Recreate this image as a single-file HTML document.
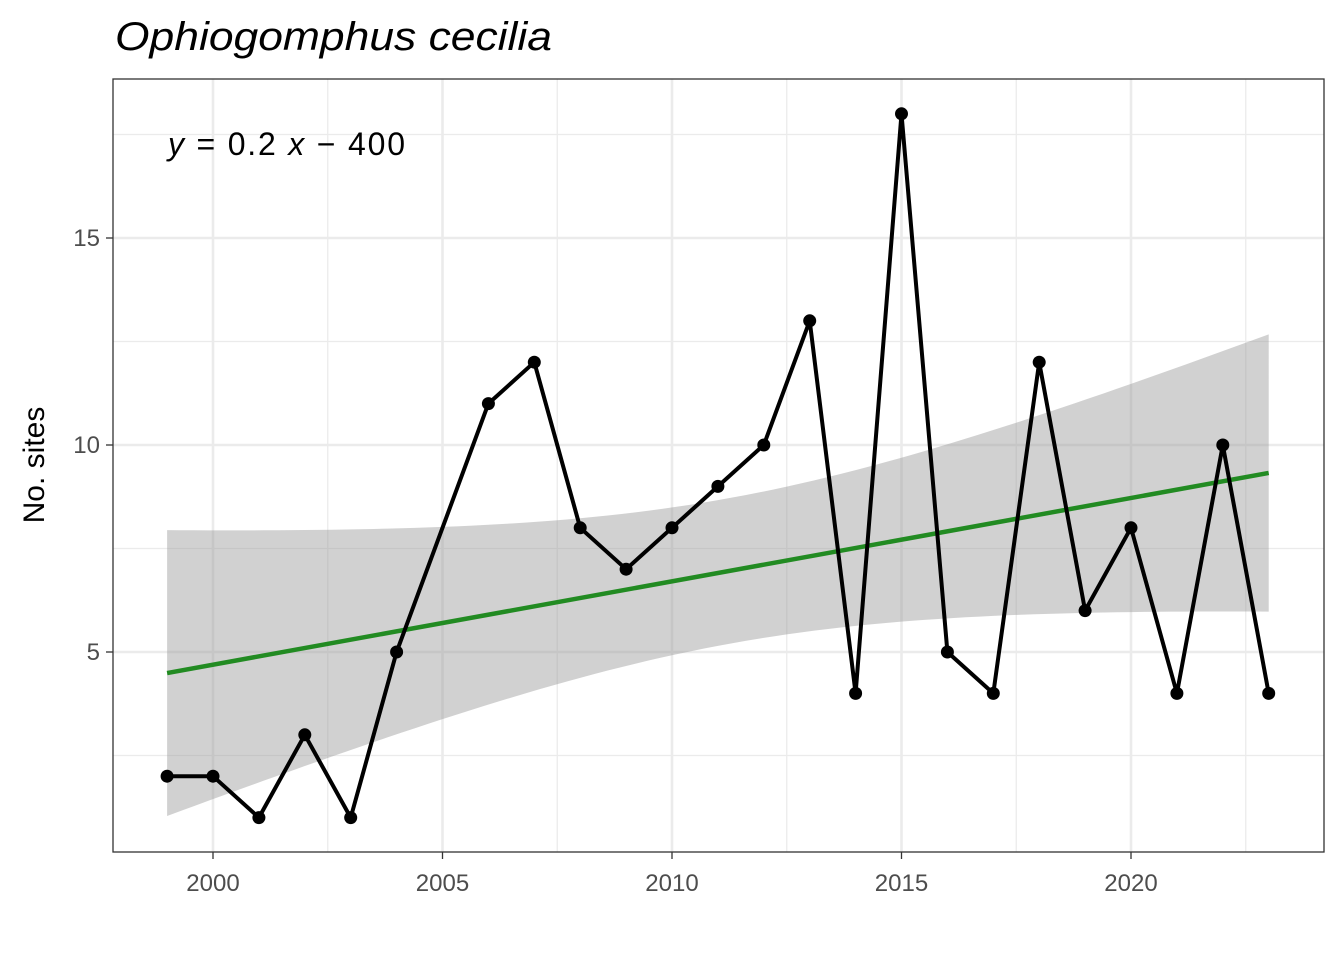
<!DOCTYPE html>
<html><head><meta charset="utf-8"><style>
html,body{margin:0;padding:0;background:#fff;}
svg{display:block;font-family:"Liberation Sans",Arial,sans-serif;}
</style></head><body>
<svg id="chart" width="1344" height="960" viewBox="0 0 1344 960">
<text x="115" y="50" font-size="40" font-style="italic" fill="#000" textLength="437" lengthAdjust="spacingAndGlyphs">Ophiogomphus cecilia</text>
<g id="grid"></g>
<g id="band"></g>
<g id="series"></g>
<rect x="113" y="79" width="1211" height="773" fill="none" stroke="#333" stroke-width="1.3"/>
<g id="axes"></g>
<text x="168" y="155" font-size="32" fill="#000" textLength="237" lengthAdjust="spacing"><tspan font-style="italic">y</tspan> = 0.2 <tspan font-style="italic">x</tspan> − 400</text>
<text transform="translate(44,465) rotate(-90)" text-anchor="middle" font-size="30" fill="#000">No. sites</text>
</svg>
<script>
const years=[1999,2000,2001,2002,2003,2004,2006,2007,2008,2009,2010,2011,2012,2013,2014,2015,2016,2017,2018,2019,2020,2021,2022,2023];
const sites=[2,2,1,3,1,5,11,12,8,7,8,9,10,13,4,18,5,4,12,6,8,4,10,4];
const xTicks=[2000,2005,2010,2015,2020];
const yTicks=[5,10,15];
const xMinor=[2002.5,2007.5,2012.5,2017.5,2022.5];
const yMinor=[2.5,7.5,12.5,17.5];
const NS="http://www.w3.org/2000/svg";
function X(v){return 213+(v-2000)*45.9;}
function Y(v){return 859-v*41.4;}
function mk(tag,attrs,parent){const e=document.createElementNS(NS,tag);for(const k in attrs)e.setAttribute(k,attrs[k]);document.getElementById(parent).appendChild(e);return e;}
xMinor.forEach(v=>{const e=mk('line',{x1:X(v),x2:X(v),y1:79,y2:852,stroke:'#ebebeb','stroke-width':1.3},'grid');

});
yMinor.forEach(v=>{const e=mk('line',{x1:113,x2:1324,y1:Y(v),y2:Y(v),stroke:'#ebebeb','stroke-width':1.3},'grid');

});
xTicks.forEach(v=>{const e=mk('line',{x1:X(v),x2:X(v),y1:79,y2:852,stroke:'#ebebeb','stroke-width':2.6},'grid');


const t=mk('line',{x1:X(v),x2:X(v),y1:852,y2:859,stroke:'#333','stroke-width':1.3},'axes');


const l=mk('text',{x:X(v),y:891,'text-anchor':'middle','font-size':24,fill:'#4d4d4d'},'axes');l.textContent=v;

});
yTicks.forEach(v=>{const e=mk('line',{x1:113,x2:1324,y1:Y(v),y2:Y(v),stroke:'#ebebeb','stroke-width':2.6},'grid');


const t=mk('line',{x1:106,x2:113,y1:Y(v),y2:Y(v),stroke:'#333','stroke-width':1.3},'axes');


const l=mk('text',{x:100,y:Y(v)+8,'text-anchor':'end','font-size':24,fill:'#4d4d4d'},'axes');l.textContent=v;

});
const n=years.length;const mx=years.reduce((a,b)=>a+b)/n,my=sites.reduce((a,b)=>a+b)/n;
let sxx=0,sxy=0;for(let i=0;i<n;i++){sxx+=(years[i]-mx)**2;sxy+=(years[i]-mx)*(sites[i]-my);}
const b=sxy/sxx,a=my-b*mx;let sse=0;for(let i=0;i<n;i++)sse+=(sites[i]-a-b*years[i])**2;
const s=Math.sqrt(sse/(n-2)),tq=2.074;
const x0=years[0],x1=years[n-1];const up=[],lo=[];
for(let k=0;k<=80;k++){const xv=x0+(x1-x0)*k/80;const f=a+b*xv;const se=s*Math.sqrt(1/n+(xv-mx)**2/sxx);
up.push(X(xv)+','+Y(f+tq*se));lo.unshift(X(xv)+','+Y(f-tq*se));}
const band=mk('polygon',{points:up.concat(lo).join(' '),fill:'#999',opacity:0.45},'band');


const fit=mk('line',{x1:X(x0),y1:Y(a+b*x0),x2:X(x1),y2:Y(a+b*x1),stroke:'#228b22','stroke-width':4.5},'series');


const pl=mk('polyline',{points:years.map((y,i)=>X(y)+','+Y(sites[i])).join(' '),fill:'none',stroke:'#000','stroke-width':4,'stroke-linejoin':'round'},'series');


years.forEach((y,i)=>{const c=mk('circle',{cx:X(y),cy:Y(sites[i]),r:6.5,fill:'#000'},'series');

});
</script>
</body></html>
